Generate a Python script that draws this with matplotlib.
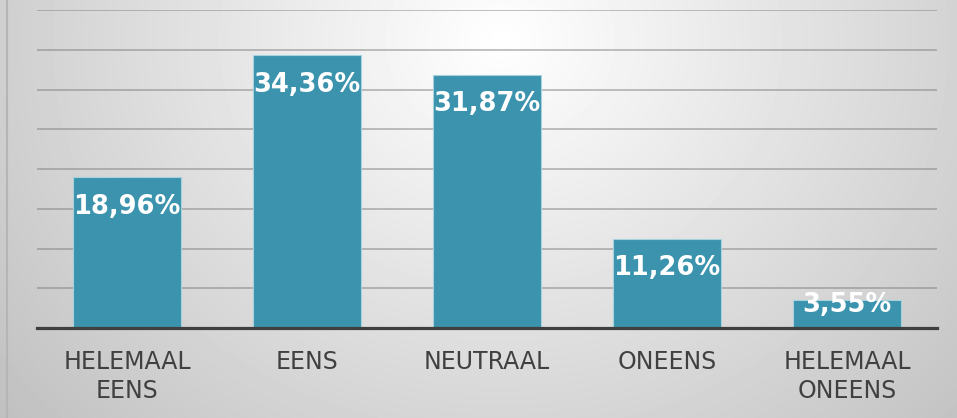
import numpy as np
import matplotlib
matplotlib.use("Agg")
import matplotlib.pyplot as plt
from matplotlib.lines import Line2D

categories = ['HELEMAAL\nEENS', 'EENS', 'NEUTRAAL', 'ONEENS', 'HELEMAAL\nONEENS']
percentages = [18.96, 34.36, 31.87, 11.26, 3.55]
value_labels = ['18,96%', '34,36%', '31,87%', '11,26%', '3,55%']

plt.rcParams['font.family'] = ['DejaVu Sans']

W, H, DPI = 957, 418, 100
fig = plt.figure(figsize=(W / DPI, H / DPI), dpi=DPI)

# radial grey background, brightest near the top centre
bg = fig.add_axes([0, 0, 1, 1], zorder=-5)
yy, xx = np.mgrid[0:H, 0:W]
r = np.sqrt(((xx - 500) / 640.0) ** 2 + ((yy - 40) / 560.0) ** 2)
shade = np.clip(1.0 - 0.24 * r, 0.75, 1.0)
bg.imshow(shade, cmap='gray', vmin=0, vmax=1, aspect='auto', interpolation='bilinear')
bg.axis('off')

ax = fig.add_axes([37 / W, 1 - 328 / H, 900 / W, (328 - 10.4) / H])
ax.set_facecolor('none')

x = np.arange(len(categories))
ax.bar(x, percentages, width=0.6, color='#3b93ad', edgecolor='#a6d2de',
       linewidth=0.8, zorder=3)

ax.set_xlim(-0.5, len(categories) - 0.5)
ax.set_ylim(0, 40)
ax.set_yticks(np.arange(5, 41, 5))
ax.yaxis.grid(True, color='#7a7a7a', alpha=0.5, linewidth=1.3, zorder=1)
ax.set_axisbelow(True)
ax.tick_params(axis='y', length=0, labelleft=False)

ax.set_xticks(x)
ax.set_xticklabels(categories, fontsize=17, color='#404040', linespacing=1.25)
ax.tick_params(axis='x', length=0, pad=16)

for s in ['left', 'right', 'top']:
    ax.spines[s].set_visible(False)
ax.spines['bottom'].set_color('#3f3f3f')
ax.spines['bottom'].set_linewidth(2.3)
ax.spines['bottom'].set_zorder(4)

# labels sit inside the top of the bar, pushed up when the bar is short
unit_px = (328 - 10.4) / 40.0
for xi, v, lab in zip(x, percentages, value_labels):
    y = max(v - 29.5 / unit_px, 23 / unit_px)
    ax.text(xi, y, lab, ha='center', va='center', color='white',
            fontsize=18.5, fontweight='bold', zorder=5)

fig.add_artist(Line2D([6.5 / W, 6.5 / W], [0, 1], color='#b5b5b5', linewidth=1.5))

plt.savefig('out.png', dpi=DPI)
